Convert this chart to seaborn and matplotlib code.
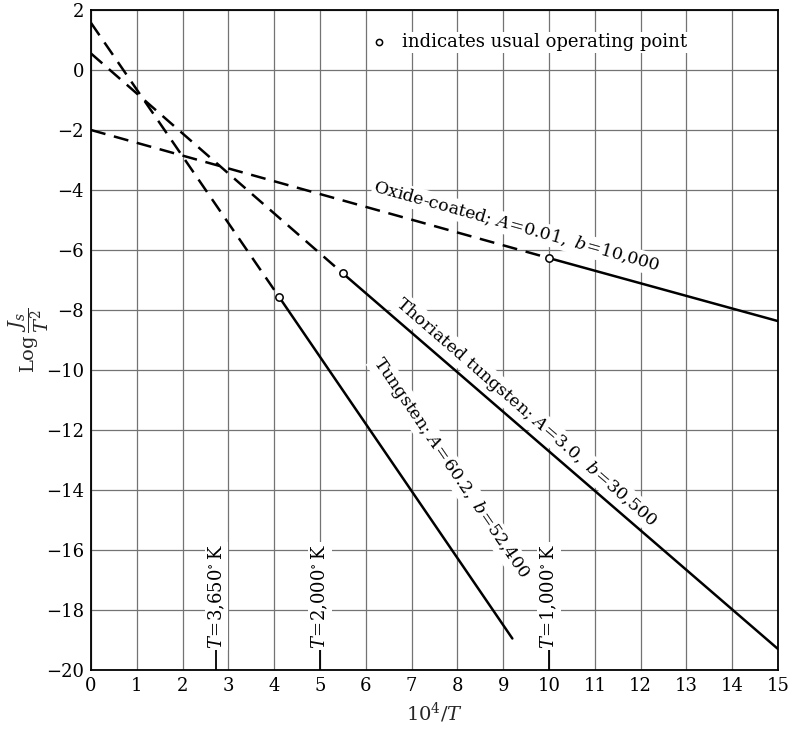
import numpy as np
import pandas as pd
import matplotlib
matplotlib.use("Agg")
import matplotlib.pyplot as plt
import seaborn as sns

# Emission lines: log(Js/T^2) vs 10^4/T, dashed up to the usual operating point, solid beyond
materials = ["Tungsten", "Thoriated tungsten", "Oxide-coated"]
x_start = [0.0, 0.0, 0.0]
y_start = [1.57, 0.55, -2.0]
x_oper = [4.1, 5.5, 10.0]
y_oper = [-7.55, -6.78, -6.27]
x_end = [9.2, 15.0, 15.0]
y_end = [-18.95, -19.3, -8.37]

line_labels = [
    r"Tungsten; $A\!=\!60.2,\ b\!=\!52{,}400$",
    r"Thoriated tungsten; $A\!=\!3.0,\ b\!=\!30{,}500$",
    r"Oxide-coated; $A\!=\!0.01,\ b\!=\!10{,}000$",
]

# Reference temperatures marked on the abscissa
temps = [3650, 2000, 1000]
temp_labels = [r"$T\!=\!3{,}650^{\circ}\,\mathrm{K}$",
               r"$T\!=\!2{,}000^{\circ}\,\mathrm{K}$",
               r"$T\!=\!1{,}000^{\circ}\,\mathrm{K}$"]

x_ticks = list(range(0, 16))
y_ticks = list(range(-20, 3, 2))

sns.set_theme(style="white")
plt.rcParams["font.family"] = ["DejaVu Serif"]
plt.rcParams["mathtext.fontset"] = "dejavuserif"

fig = plt.figure(figsize=(7.88, 7.30), dpi=100)
ax = fig.add_axes([91 / 788, 1 - 670 / 730, 687 / 788, 660 / 730])
ax.set_xlim(0, 15)
ax.set_ylim(-20, 2)

rows = []
for m, xs, ys, xo, yo, xe, ye in zip(materials, x_start, y_start, x_oper, y_oper, x_end, y_end):
    rows.append(dict(material=m, part="extrapolated", x=xs, y=ys))
    rows.append(dict(material=m, part="extrapolated", x=xo, y=yo))
    rows.append(dict(material=m, part="measured", x=xo, y=yo))
    rows.append(dict(material=m, part="measured", x=xe, y=ye))
df = pd.DataFrame(rows)

for m in materials:
    sub = df[df.material == m]
    sns.lineplot(data=sub[sub.part == "extrapolated"], x="x", y="y", ax=ax,
                 color="black", lw=1.8, dashes=False, linestyle=(0, (6, 3.5)),
                 estimator=None, sort=False)
    sns.lineplot(data=sub[sub.part == "measured"], x="x", y="y", ax=ax,
                 color="black", lw=1.8, estimator=None, sort=False)

ops = pd.DataFrame(dict(x=x_oper, y=y_oper))
sns.scatterplot(data=ops, x="x", y="y", ax=ax, marker="o", s=28,
                facecolor="white", edgecolor="black", linewidth=1.1, zorder=5)

ax.set_xticks(x_ticks)
ax.set_yticks(y_ticks)
ax.tick_params(length=0, labelsize=13, pad=5, colors="black")
ax.grid(True, color="0.45", lw=0.9)
for s in ax.spines.values():
    s.set_color("black")
    s.set_linewidth(1.3)

ax.set_xlabel(r"$10^4/T$", fontsize=14, labelpad=4)
ax.set_ylabel(r"$\mathrm{Log}\,\dfrac{J_s}{T^2}$", fontsize=14)
ax.yaxis.set_label_coords(-0.058, 0.5)


def screen_angle(x0, y0, x1, y1):
    p0 = ax.transData.transform((x0, y0))
    p1 = ax.transData.transform((x1, y1))
    return np.degrees(np.arctan2(p1[1] - p0[1], p1[0] - p0[0]))


white_box = dict(facecolor="white", edgecolor="none", pad=1.0)

# Labels along each line, offset to the upper-right side
label_pos = [(7.85, -13.25), (9.5, -11.4), (9.3, -5.22)]
for (lx, ly), txt, xs, ys, xe, ye in zip(label_pos, line_labels, x_start, y_start, x_end, y_end):
    ang = screen_angle(xs, ys, xe, ye)
    ax.text(lx, ly, txt, rotation=ang, rotation_mode="anchor",
            ha="center", va="center", fontsize=12.5, color="black",
            bbox=white_box, zorder=4)

# Temperature markers: short ticks from the baseline with vertical labels
for T, lab in zip(temps, temp_labels):
    xt = 1e4 / T
    ax.plot([xt, xt], [-20, -19.33], color="black", lw=1.3)
    ax.text(xt, -19.3, lab, rotation=90, ha="center", va="bottom",
            fontsize=13, color="black", bbox=white_box, zorder=4)

# Key for the circle marker
ax.scatter([6.28], [0.93], s=20, facecolor="white", edgecolor="black",
           linewidth=1.1, zorder=5)
ax.text(6.8, 0.93, "indicates usual operating point", ha="left", va="center",
        fontsize=13, color="black", bbox=white_box, zorder=4)

fig.savefig("out.png", dpi=100)
